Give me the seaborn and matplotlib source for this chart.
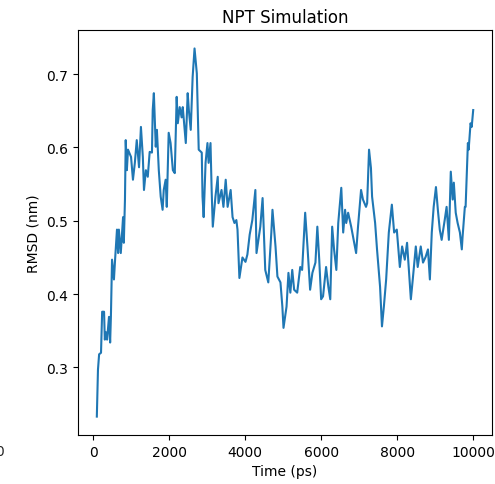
import matplotlib
matplotlib.use("Agg")
import matplotlib.pyplot as plt
import seaborn as sns
import pandas as pd

time_ps = [100, 130, 160, 210, 240, 290, 310, 340, 370, 420, 450, 470, 500, 550, 580,
           630, 660, 680, 730, 790, 810, 840, 860, 890, 920, 1000, 1050, 1100, 1150, 1210,
           1260, 1310, 1340, 1390, 1440, 1490, 1550, 1570, 1600, 1650, 1680, 1730, 1780, 1830,
           1860, 1910, 1940, 1990, 2040, 2100, 2150, 2200, 2230, 2280, 2330, 2360, 2440, 2490,
           2520, 2570, 2620, 2670, 2730, 2780, 2860, 2880, 2910, 2960, 3010, 3040, 3090, 3120,
           3150, 3220, 3280, 3300, 3380, 3430, 3490, 3540, 3620, 3670, 3720, 3770, 3800, 3850,
           3930, 4010, 4060, 4120, 4190, 4270, 4300, 4400, 4460, 4530, 4610, 4690, 4720, 4800,
           4850, 4930, 4980, 5010, 5090, 5140, 5190, 5240, 5290, 5370, 5450, 5500, 5580, 5640,
           5710, 5770, 5850, 5900, 5950, 6000, 6050, 6130, 6190, 6240, 6290, 6340, 6400, 6450,
           6530, 6580, 6630, 6660, 6710, 6790, 6840, 6920, 6970, 7050, 7100, 7180, 7210, 7260,
           7310, 7340, 7420, 7470, 7550, 7600, 7650, 7710, 7780, 7860, 7920, 7990, 8070, 8130,
           8200, 8260, 8360, 8410, 8490, 8540, 8620, 8680, 8750, 8810, 8860, 8910, 8960, 9020,
           9070, 9120, 9170, 9250, 9300, 9360, 9410, 9460, 9490, 9540, 9590, 9650, 9700, 9720,
           9780, 9800, 9860, 9880, 9930, 9960, 10000]

rmsd_nm = [0.233, 0.297, 0.318, 0.320, 0.376, 0.376, 0.338, 0.348, 0.338, 0.369, 0.334, 0.369,
           0.447, 0.420, 0.447, 0.488, 0.456, 0.488, 0.456, 0.505, 0.470, 0.529, 0.610, 0.569,
           0.597, 0.587, 0.556, 0.579, 0.610, 0.573, 0.628, 0.587, 0.542, 0.569, 0.560, 0.594,
           0.593, 0.651, 0.674, 0.601, 0.624, 0.569, 0.533, 0.515, 0.542, 0.556, 0.519, 0.620,
           0.606, 0.569, 0.565, 0.669, 0.633, 0.655, 0.641, 0.655, 0.606, 0.674, 0.651, 0.624,
           0.696, 0.735, 0.701, 0.597, 0.593, 0.533, 0.505, 0.579, 0.606, 0.579, 0.606, 0.542,
           0.492, 0.533, 0.560, 0.524, 0.542, 0.519, 0.556, 0.519, 0.542, 0.505, 0.497, 0.501,
           0.488, 0.422, 0.450, 0.444, 0.454, 0.481, 0.501, 0.542, 0.456, 0.492, 0.531, 0.433,
           0.416, 0.484, 0.515, 0.465, 0.424, 0.416, 0.383, 0.354, 0.383, 0.429, 0.402, 0.433,
           0.406, 0.402, 0.437, 0.433, 0.511, 0.465, 0.406, 0.429, 0.443, 0.492, 0.447, 0.393,
           0.397, 0.437, 0.410, 0.393, 0.492, 0.461, 0.433, 0.497, 0.545, 0.484, 0.515, 0.497,
           0.511, 0.492, 0.478, 0.456, 0.492, 0.542, 0.529, 0.519, 0.524, 0.597, 0.572, 0.533,
           0.497, 0.461, 0.410, 0.356, 0.383, 0.420, 0.484, 0.522, 0.484, 0.488, 0.437, 0.465,
           0.447, 0.470, 0.393, 0.420, 0.465, 0.437, 0.465, 0.443, 0.451, 0.461, 0.420, 0.484,
           0.519, 0.546, 0.515, 0.488, 0.474, 0.501, 0.519, 0.474, 0.567, 0.529, 0.552, 0.511,
           0.497, 0.484, 0.461, 0.478, 0.519, 0.519, 0.606, 0.597, 0.633, 0.628, 0.651]

df = pd.DataFrame({"Time (ps)": time_ps, "RMSD (nm)": rmsd_nm})

fig = plt.figure(figsize=(4.95, 4.85), dpi=100)
ax = fig.add_axes([0.1576, 0.101, 0.8364, 0.835])
sns.lineplot(data=df, x="Time (ps)", y="RMSD (nm)", ax=ax, color="#1f77b4", linewidth=1.5)
ax.set_title("NPT Simulation", fontsize=12)
ax.set_xlabel("Time (ps)", fontsize=10)
ax.set_ylabel("RMSD (nm)", fontsize=10)
ax.set_xticks([0, 2000, 4000, 6000, 8000, 10000])
ax.set_yticks([0.3, 0.4, 0.5, 0.6, 0.7])
ax.tick_params(labelsize=10)

# clipped tick label from a neighbouring panel at the far left
fig.text(0.007, 1 - 452 / 485, "0", ha="right", va="center", fontsize=10, color="#262626")

fig.savefig("out.png", dpi=100)
